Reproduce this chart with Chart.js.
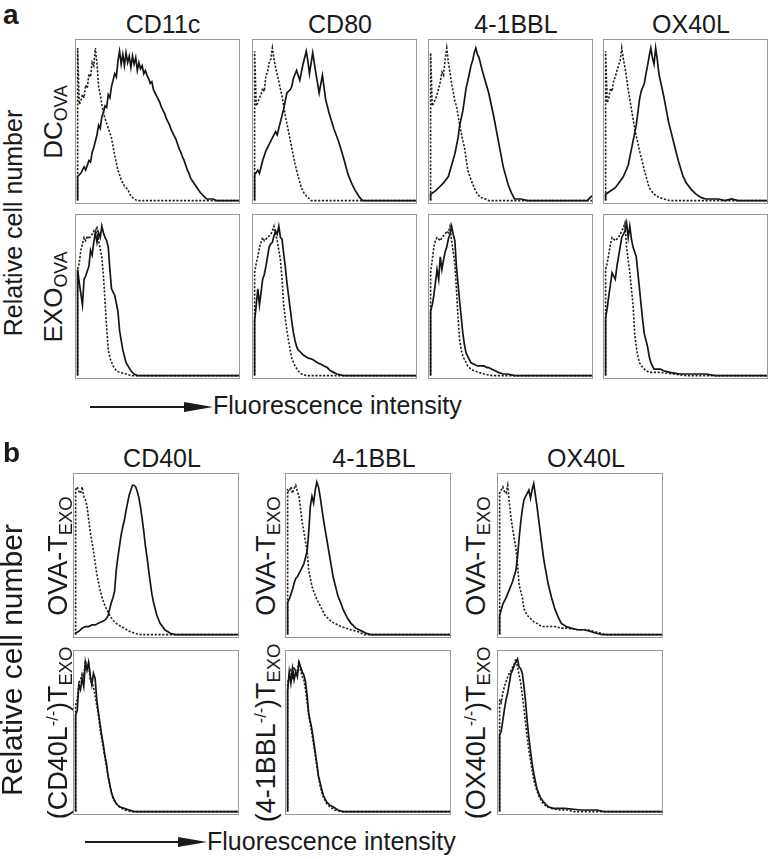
<!DOCTYPE html>
<html>
<head>
<meta charset="utf-8">
<script src="https://cdn.jsdelivr.net/npm/chart.js@4"></script>
<style>
  body { margin: 0; background: #fff; font-family: "Liberation Sans", Arial, sans-serif; color: #1a1a1a; }
  #fig { position: relative; width: 769px; height: 859px; overflow: hidden; }
  .box { position: absolute; border: 1px solid #9a9a9a; box-sizing: border-box; }
  .box canvas { position: absolute; left: 0; top: 0; }
  .t { position: absolute; white-space: nowrap; line-height: 1; }
  .r { position: absolute; white-space: nowrap; line-height: 1; transform: translate(-50%, -50%) rotate(-90deg); }
  sub { font-size: 0.68em; vertical-align: -0.3em; line-height: 0; }
  sup { font-size: 0.6em; vertical-align: 0.55em; line-height: 0; }
</style>
</head>
<body>
<div id="fig">
  <svg width="769" height="859" style="position:absolute;left:0;top:0">
    <line x1="90" y1="407" x2="186" y2="407" stroke="#1a1a1a" stroke-width="2"/>
    <polygon points="184,402 213,407 184,412" fill="#1a1a1a"/>
    <line x1="85" y1="842" x2="180" y2="842" stroke="#1a1a1a" stroke-width="2"/>
    <polygon points="178,837 207,842 178,847" fill="#1a1a1a"/>
  </svg>
</div>
<script>
// x = fluorescence channel (0-100), y = relative cell number (% of max)

// panel a, DC_OVA row
const cd11cDcSolid = [[0,0],[0,15],[2,17],[4,21],[5,19],[7,25],[8,24],[9,30],[10,33],[11,37],[12,41],[13,47],[14,45],[15,52],[16,55],[17,59],[18,58],[19,66],[20,64],[21,71],[22,75],[23,79],[24,77],[25,87],[26,93],[27,85],[28,91],[29,84],[30,92],[31,86],[32,90],[33,83],[34,90],[35,85],[36,89],[37,81],[38,86],[39,82],[40,84],[41,79],[42,81],[43,78],[44,76],[45,73],[46,74],[47,69],[48,67],[49,65],[50,63],[51,61],[52,58],[53,56],[54,54],[55,51],[56,49],[57,47],[58,44],[59,42],[60,40],[61,38],[62,35],[63,32],[64,30],[65,27],[66,25],[67,22],[68,19],[69,17],[70,14],[72,11],[74,8],[76,5],[78,3],[80,1],[84,1],[86,0],[100,0]];
const cd11cDcDotted = [[0,0],[0,95],[1,60],[2,62],[3,66],[4,64],[5,72],[6,70],[7,79],[8,77],[9,86],[10,84],[11,95],[12,85],[13,71],[14,66],[15,60],[16,55],[17,51],[19,45],[21,39],[23,28],[25,19],[27,13],[29,9],[31,7],[33,3],[35,1],[37,0],[100,0]];
const cd80DcSolid = [[0,0],[0,16],[2,19],[3,17],[5,25],[7,31],[9,35],[11,39],[13,43],[14,41],[16,49],[18,57],[19,62],[20,67],[22,69],[23,71],[24,76],[26,81],[28,75],[30,85],[32,93],[33,87],[34,79],[36,92],[38,79],[40,67],[42,78],[44,63],[46,55],[49,45],[52,37],[55,27],[58,16],[60,11],[62,7],[65,2],[67,0],[100,0]];
const cd80DcDotted = [[0,0],[0,93],[1,59],[2,61],[3,64],[4,66],[5,70],[6,68],[7,78],[8,80],[9,86],[10,88],[11,95],[12,88],[13,83],[15,74],[17,65],[19,53],[21,43],[23,33],[25,23],[27,15],[29,8],[31,4],[33,2],[35,0],[100,0]];
const bblDcSolid = [[0,0],[0,4],[3,6],[5,8],[8,11],[11,15],[13,22],[15,29],[17,39],[18,47],[20,56],[21,63],[22,70],[24,79],[25,84],[26,87],[27,92],[28,95],[29,91],[30,89],[32,81],[34,74],[36,67],[39,53],[42,37],[45,21],[48,10],[50,5],[52,1],[56,1],[60,0],[97,0],[99,2],[100,3]];
const bblDcDotted = [[0,0],[0,92],[1,59],[2,61],[3,63],[4,66],[5,70],[6,74],[7,80],[8,78],[9,88],[10,95],[11,86],[12,80],[13,73],[15,62],[16,59],[18,47],[20,37],[21,33],[23,19],[25,13],[27,8],[29,4],[31,2],[34,1],[36,0],[100,0]];
const ox40lDcSolid = [[0,0],[0,4],[3,6],[6,8],[9,12],[11,15],[14,22],[17,37],[19,47],[21,63],[22,68],[24,73],[25,79],[26,84],[27,90],[28,95],[29,89],[30,85],[31,95],[32,88],[33,79],[36,65],[39,49],[42,37],[45,25],[48,15],[50,11],[53,7],[56,4],[59,2],[62,1],[70,1],[74,0],[78,1],[82,0],[100,0]];
const ox40lDcDotted = [[0,0],[0,93],[1,61],[2,64],[3,70],[4,68],[5,75],[6,77],[7,81],[8,84],[9,87],[10,95],[11,88],[12,83],[14,69],[16,57],[18,45],[21,31],[24,19],[27,8],[30,4],[33,2],[36,1],[40,0],[100,0]];

// panel a, EXO_OVA row
const cd11cExoSolid = [[0,0],[0,66],[1,58],[3,44],[4,60],[5,62],[7,68],[8,78],[9,75],[10,83],[11,89],[12,83],[13,89],[14,86],[15,93],[16,89],[17,86],[18,84],[19,80],[20,66],[21,54],[22,52],[23,50],[25,40],[26,28],[28,16],[30,8],[33,3],[35,1],[37,0],[100,0]];
const cd11cExoDotted = [[0,0],[0,66],[1,70],[2,78],[3,82],[4,86],[5,84],[6,87],[7,85],[8,87],[9,88],[10,90],[11,86],[12,93],[13,84],[14,79],[15,74],[16,62],[17,46],[18,30],[19,16],[20,11],[22,6],[24,3],[26,2],[30,1],[33,0],[100,0]];
const cd80ExoSolid = [[0,0],[0,34],[2,54],[3,44],[4,52],[5,60],[6,63],[7,68],[8,74],[9,80],[10,82],[11,83],[12,87],[13,90],[14,88],[15,93],[16,86],[17,85],[18,76],[19,68],[20,58],[21,50],[22,42],[23,34],[24,27],[25,22],[26,18],[27,16],[28,15],[30,13],[33,11],[36,10],[39,8],[41,7],[43,6],[45,5],[47,3],[49,2],[51,1],[55,0],[100,0]];
const cd80ExoDotted = [[0,0],[0,64],[1,70],[2,74],[3,80],[4,83],[5,86],[6,84],[7,85],[8,86],[9,87],[10,88],[11,90],[12,93],[13,88],[14,84],[15,78],[16,72],[17,60],[18,44],[19,36],[20,28],[21,22],[22,16],[23,11],[25,6],[27,3],[29,1],[32,0],[100,0]];
const bblExoSolid = [[0,0],[0,40],[1,44],[2,50],[3,58],[4,66],[5,60],[6,74],[7,66],[8,72],[9,77],[10,80],[11,85],[12,88],[13,93],[14,88],[15,84],[16,68],[17,57],[18,46],[19,36],[20,26],[21,19],[22,14],[24,10],[25,8],[27,7],[29,6],[31,6],[33,6],[35,5],[36,5],[38,4],[40,3],[42,2],[45,1],[48,1],[52,0],[100,0]];
const bblExoDotted = [[0,0],[0,64],[1,72],[2,80],[3,84],[4,86],[5,85],[6,84],[7,86],[8,87],[9,88],[10,90],[11,89],[12,93],[13,84],[14,77],[15,70],[16,54],[17,36],[18,22],[19,16],[20,12],[22,8],[23,6],[25,4],[27,3],[30,2],[33,1],[38,0],[100,0]];
const ox40lExoSolid = [[0,0],[0,36],[1,42],[2,50],[3,57],[4,64],[5,62],[6,60],[7,68],[8,74],[9,80],[10,86],[11,88],[12,90],[13,95],[14,86],[15,93],[16,85],[17,80],[19,74],[20,64],[21,54],[22,44],[23,34],[24,26],[26,18],[27,12],[28,8],[30,4],[32,4],[34,4],[36,3],[40,2],[46,1],[62,1],[68,0],[100,0]];
const ox40lExoDotted = [[0,0],[0,66],[1,70],[2,76],[3,82],[4,86],[5,85],[6,84],[7,85],[8,86],[9,88],[10,90],[11,92],[12,95],[13,80],[14,72],[15,64],[16,54],[17,44],[18,26],[19,18],[20,12],[21,8],[23,5],[25,3],[27,2],[34,2],[42,1],[50,0],[100,0]];

// panel b, OVA-T_EXO row
const cd40lOvaSolid = [[0,0],[0,1],[2,2],[4,4],[6,5],[8,5],[10,6],[12,6],[14,7],[16,8],[18,9],[19,10],[20,12],[21,16],[22,20],[23,23],[24,27],[25,40],[26,48],[27,55],[28,62],[29,67],[30,71],[31,77],[32,82],[33,87],[34,90],[35,93],[36,93],[37,92],[38,89],[39,85],[40,79],[41,72],[42,64],[43,55],[44,48],[45,40],[46,32],[47,25],[48,20],[49,16],[50,12],[52,7],[55,3],[58,1],[61,0],[100,0]];
const cd40lOvaDotted = [[0,0],[0,90],[1,92],[2,89],[3,88],[4,92],[5,86],[6,84],[7,80],[8,72],[9,64],[10,58],[11,52],[12,45],[13,38],[14,33],[15,28],[16,24],[17,21],[18,18],[19,16],[21,12],[23,9],[25,7],[28,5],[30,4],[33,2],[36,1],[40,0],[100,0]];
const bblOvaSolid = [[0,0],[0,20],[1,22],[2,25],[3,28],[4,32],[5,35],[6,36],[8,40],[10,44],[11,48],[12,52],[13,64],[14,80],[15,86],[16,82],[17,90],[18,95],[19,92],[20,86],[21,79],[22,72],[23,66],[24,60],[25,54],[26,48],[27,42],[28,36],[30,28],[31,24],[33,19],[34,16],[36,12],[37,10],[39,7],[40,6],[42,4],[44,3],[46,2],[48,1],[51,0],[100,0]];
const bblOvaDotted = [[0,0],[0,90],[1,89],[2,92],[3,88],[4,91],[5,93],[6,89],[7,86],[8,78],[9,70],[10,64],[11,58],[12,52],[13,40],[14,35],[15,30],[16,27],[18,22],[20,18],[21,16],[23,12],[25,10],[27,8],[29,7],[31,6],[33,5],[36,4],[39,3],[43,2],[45,1],[47,0],[100,0]];
const ox40lOvaSolid = [[0,0],[0,12],[2,19],[4,23],[6,28],[8,33],[10,40],[11,48],[12,60],[13,70],[14,78],[15,84],[16,86],[17,88],[18,90],[19,85],[20,90],[21,94],[22,87],[23,80],[24,72],[25,64],[26,56],[27,48],[28,42],[30,31],[32,23],[34,16],[36,11],[38,7],[41,5],[44,4],[48,3],[52,3],[56,2],[59,1],[63,0],[100,0]];
const ox40lOvaDotted = [[0,0],[0,88],[1,90],[2,92],[3,89],[4,88],[5,93],[6,82],[7,73],[8,66],[9,60],[10,54],[11,44],[12,31],[13,27],[14,23],[15,16],[17,12],[19,10],[21,8],[23,7],[26,5],[30,5],[34,5],[38,4],[42,4],[48,3],[54,3],[58,2],[62,1],[65,0],[100,0]];

// panel b, knockout row
const cd40lKoSolid = [[0,0],[0,60],[1,63],[2,79],[3,76],[4,83],[5,78],[6,93],[7,88],[8,93],[9,85],[10,79],[11,86],[12,83],[13,70],[14,62],[15,55],[16,48],[17,42],[18,35],[19,30],[20,22],[21,17],[22,12],[23,9],[25,5],[27,3],[30,2],[33,1],[36,0],[100,0]];
const cd40lKoDotted = [[0,0],[0,66],[1,70],[2,80],[3,82],[4,86],[5,84],[6,94],[7,90],[8,92],[9,82],[10,80],[11,78],[12,72],[13,66],[14,60],[15,52],[16,46],[17,40],[18,34],[19,28],[20,22],[21,17],[22,12],[23,8],[25,5],[27,3],[30,1],[34,0],[100,0]];
const bblKoSolid = [[0,0],[0,75],[1,87],[2,80],[3,89],[4,82],[5,87],[6,84],[7,93],[8,90],[9,87],[10,85],[11,81],[12,72],[13,61],[14,56],[15,51],[16,44],[17,37],[18,30],[19,22],[20,18],[21,14],[22,10],[24,6],[26,4],[28,3],[31,1],[34,0],[100,0]];
const bblKoDotted = [[0,0],[0,80],[1,85],[2,88],[3,84],[4,90],[5,86],[6,88],[7,94],[8,88],[9,84],[10,82],[11,76],[12,68],[13,60],[14,54],[15,48],[16,42],[17,35],[18,28],[19,22],[20,16],[21,12],[22,9],[24,5],[26,3],[29,1],[33,0],[100,0]];
const ox40lKoSolid = [[0,0],[0,48],[1,50],[2,57],[3,64],[4,70],[5,74],[6,80],[7,86],[8,88],[9,91],[10,93],[11,95],[12,90],[13,89],[14,86],[15,78],[16,68],[17,56],[18,46],[19,38],[20,30],[21,24],[22,19],[23,14],[25,9],[27,6],[30,3],[33,2],[40,2],[50,1],[60,1],[64,0],[100,0]];
const ox40lKoDotted = [[0,0],[0,70],[1,68],[2,74],[3,78],[4,81],[5,84],[6,86],[7,88],[8,90],[9,92],[10,95],[11,90],[12,85],[13,80],[14,72],[15,64],[16,55],[17,46],[18,38],[19,32],[20,26],[21,20],[22,16],[24,10],[26,6],[29,3],[32,2],[37,1],[42,1],[45,0],[100,0]];

const titlesA = ['CD11c', 'CD80', '4-1BBL', 'OX40L'];
const titlesB = ['CD40L', '4-1BBL', 'OX40L'];
const rowsA = ['DC<sub>OVA</sub>', 'EXO<sub>OVA</sub>'];
const rowsB = [
  ['OVA-T<sub>EXO</sub>', 'OVA-T<sub>EXO</sub>', 'OVA-T<sub>EXO</sub>'],
  ['(CD40L<sup>-/-</sup>)T<sub>EXO</sub>', '(4-1BBL<sup>-/-</sup>)T<sub>EXO</sub>', '(OX40L<sup>-/-</sup>)T<sub>EXO</sub>']
];

const fig = document.getElementById('fig');

function text(html, left, top, size, extra) {
  const d = document.createElement('div');
  d.className = 't';
  d.innerHTML = html;
  d.style.left = left + 'px';
  d.style.top = top + 'px';
  d.style.fontSize = size + 'px';
  if (extra) Object.assign(d.style, extra);
  fig.appendChild(d);
}

function vtext(html, cx, cy, size) {
  const d = document.createElement('div');
  d.className = 'r';
  d.innerHTML = html;
  d.style.left = cx + 'px';
  d.style.top = cy + 'px';
  d.style.fontSize = size + 'px';
  fig.appendChild(d);
}

function panel(left, top, w, h, solid, dotted) {
  const box = document.createElement('div');
  box.className = 'box';
  box.style.left = left + 'px';
  box.style.top = top + 'px';
  box.style.width = w + 'px';
  box.style.height = h + 'px';
  const c = document.createElement('canvas');
  c.width = w - 2;
  c.height = h - 2;
  box.appendChild(c);
  fig.appendChild(box);

  new Chart(c, {
    type: 'line',
    data: {
      datasets: [
        { data: solid, borderColor: '#151515', borderWidth: 1.7, pointRadius: 0, tension: 0 },
        { data: dotted, borderColor: '#222', borderWidth: 1.6, borderDash: [2.2, 1.6], pointRadius: 0, tension: 0 }
      ]
    },
    options: {
      responsive: false,
      animation: false,
      events: [],
      layout: { padding: 0 },
      plugins: { legend: { display: false }, tooltip: { enabled: false } },
      scales: {
        x: { type: 'linear', min: -1, max: 100, display: false },
        y: { min: -1.5, max: 100, display: false }
      }
    }
  });
}

// panel a
const colsA = [75, 252, 428, 603];
const topsA = [39, 214];
const dataA = [
  [[cd11cDcSolid, cd11cDcDotted], [cd80DcSolid, cd80DcDotted], [bblDcSolid, bblDcDotted], [ox40lDcSolid, ox40lDcDotted]],
  [[cd11cExoSolid, cd11cExoDotted], [cd80ExoSolid, cd80ExoDotted], [bblExoSolid, bblExoDotted], [ox40lExoSolid, ox40lExoDotted]]
];
for (let r = 0; r < 2; r++) {
  for (let i = 0; i < 4; i++) {
    panel(colsA[i], topsA[r], 165, 165, dataA[r][i][0], dataA[r][i][1]);
  }
  vtext(rowsA[r], 53, topsA[r] + 83, 26);
}
titlesA.forEach((t, i) => text(t, colsA[i] + 88, 12, 25, { transform: 'translateX(-50%)' }));

// panel b
const colsB = [73, 285, 497];
const topsB = [473, 650];
const labelX = [58, 266, 476];
const dataB = [
  [[cd40lOvaSolid, cd40lOvaDotted], [bblOvaSolid, bblOvaDotted], [ox40lOvaSolid, ox40lOvaDotted]],
  [[cd40lKoSolid, cd40lKoDotted], [bblKoSolid, bblKoDotted], [ox40lKoSolid, ox40lKoDotted]]
];
for (let r = 0; r < 2; r++) {
  for (let i = 0; i < 3; i++) {
    panel(colsB[i], topsB[r], 166, 165, dataB[r][i][0], dataB[r][i][1]);
    vtext(rowsB[r][i], labelX[i], topsB[r] + 83, 27);
  }
}
titlesB.forEach((t, i) => text(t, colsB[i] + 89, 446, 25, { transform: 'translateX(-50%)' }));

text('a', 3, 1, 28, { fontWeight: 'bold' });
text('b', 3, 439, 28, { fontWeight: 'bold' });
text('Fluorescence intensity', 213, 393, 25);
text('Fluorescence intensity', 207, 829, 25);
vtext('Relative cell number', 13, 223, 25);
vtext('Relative cell number', 12, 660, 30);
</script>
</body>
</html>
